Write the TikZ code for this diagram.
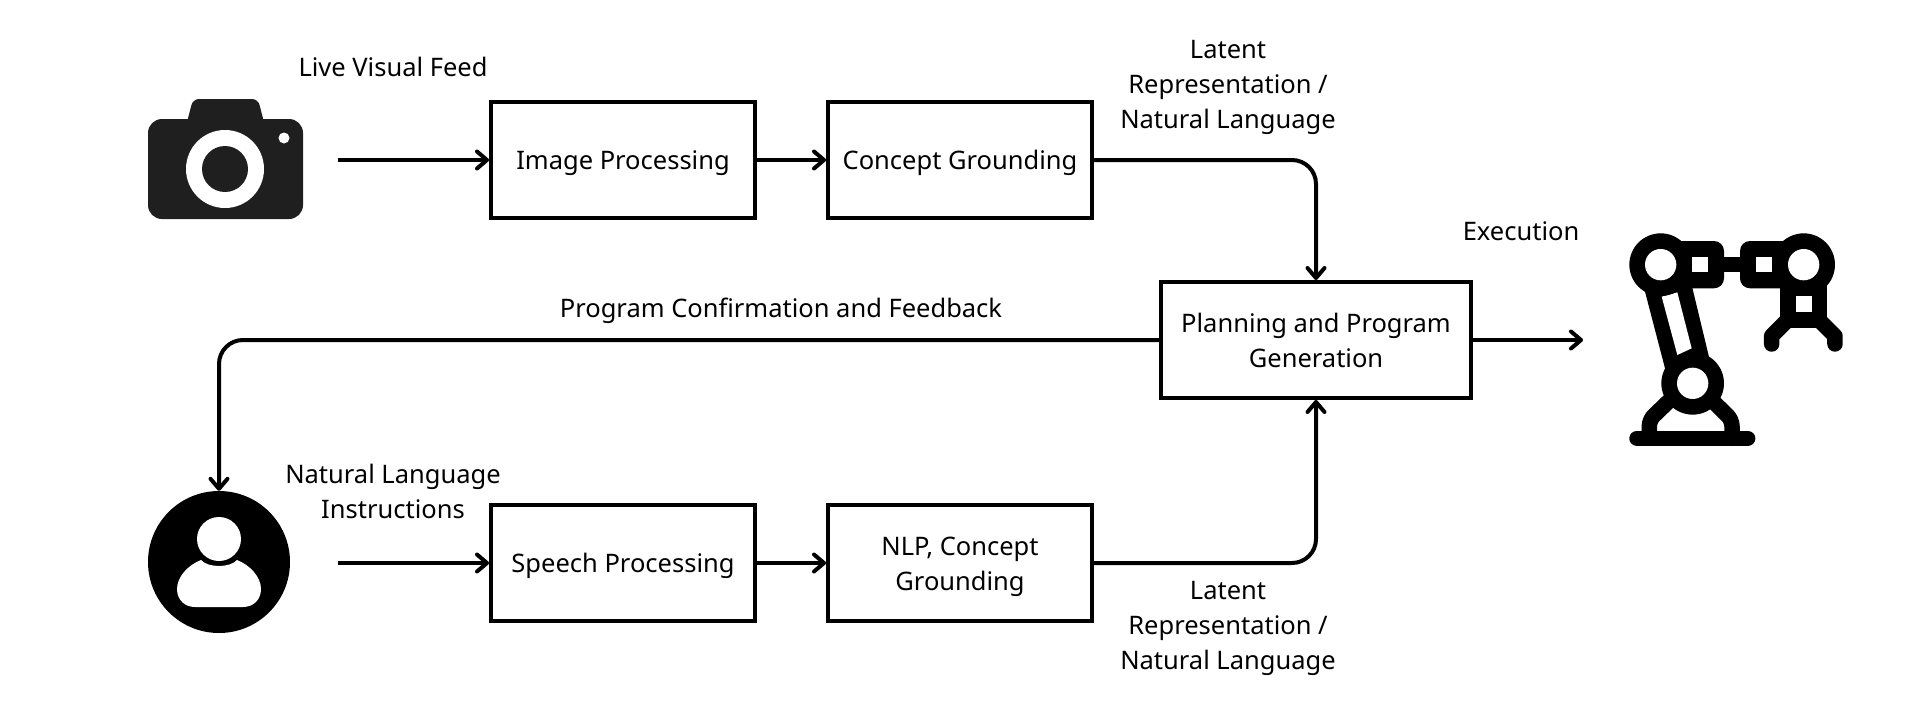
\documentclass[tikz,border=0pt]{standalone}
\usepackage{fontspec}
\setmainfont{Noto Sans}
\usetikzlibrary{arrows.meta}
\definecolor{camgray}{HTML}{1F1F1F}
\tikzset{
  blockbox/.style={draw=black, line width=4pt, minimum height=116pt, align=center, font=\fontsize{25.5}{35}\selectfont, execute at begin node={\rule{0pt}{26pt}}},
  caption/.style={align=center, font=\fontsize{25.5}{35}\selectfont},
  flow/.style={line width=4pt, -{Straight Barb[length=10pt, width=17pt, line width=4pt, round]}, rounded corners=24pt},
  robotline/.style={line width=15.5pt, line cap=round, line join=round}
}
\begin{document}
\begin{tikzpicture}[x=1pt, y=-1pt]
\useasboundingbox (0,0) rectangle (1920,705);

% blocks
\node [blockbox, minimum width=264pt] (imageproc) at (623,160) {Image Processing};
\node [blockbox, minimum width=264pt] (conceptgr) at (960,160) {Concept Grounding};
\node [blockbox, minimum width=310pt] (planning) at (1316,340) {Planning and Program\\Generation};
\node [blockbox, minimum width=264pt] (speechproc) at (623,563) {Speech Processing};
\node [blockbox, minimum width=264pt] (nlpgr) at (960,563) {\rule{0pt}{27pt}NLP, Concept\\Grounding};

% camera
\fill [camgray, rounded corners=6pt] (185,130) -- (193,99) -- (258,99) -- (266,130) -- cycle;
\fill [camgray, rounded corners=14pt] (148,119) rectangle (303,219);
\fill [white] (225,169) circle (39);
\fill [camgray] (225,169) circle (23);
\fill [white] (284,138) circle (5.5);

% person
\node [circle, fill=black, minimum size=142pt, inner sep=0pt] (person) at (219,562) {};
\fill [white] (219,539) circle (22);
\fill [white] (201,560) .. controls (208,568) and (230,568) .. (237,560)
  .. controls (250,565) and (261,577) .. (261,589)
  .. controls (261,600) and (253,607) .. (243,607) -- (195,607)
  .. controls (185,607) and (177,600) .. (177,589)
  .. controls (177,577) and (188,565) .. (201,560) -- cycle;

% robot
\begin{scope}[shift={(1600,210)}, x=0.3333pt, y=-0.3333pt]
\fill [black] (135,245) -- (275,225) -- (328,445) -- (195,475) -- cycle;
\fill [white] (185,260) -- (232,247) -- (275,415) -- (232,435) -- cycle;
\fill [black, rounded corners=10pt] (130,93) rectangle (372,235);
\fill [white] (277,141) rectangle (325,187);
\fill [black, rounded corners=10pt] (420,93) rectangle (640,235);
\fill [white] (467,141) rectangle (517,187);
\fill [black] (360,141) rectangle (430,187);
\fill [black] (540,200) rectangle (680,353);
\fill [white] (587,258) rectangle (635,306);
\draw [robotline] (563,330) -- (515,378) -- (515,402);
\draw [robotline] (657,330) -- (705,378) -- (705,402);
\foreach \cx/\cy in {182/164, 611/164, 278/520} {
  \fill [black] (\cx,\cy) circle (94);
  \fill [white] (\cx,\cy) circle (47);
}
\draw [robotline, rounded corners=6pt] (148,685) -- (148,630) -- (205,575);
\draw [robotline, rounded corners=6pt] (396,685) -- (396,630) -- (340,575);
\draw [robotline] (111,685) -- (443,685);
\end{scope}

% free ends
\coordinate (camerafeed) at (338,160);
\coordinate (personfeed) at (338,563);
\coordinate (robotin) at (1583,340);

% connectors
\draw [flow] (camerafeed) -- (imageproc.west |- camerafeed);
\draw [flow] (imageproc) -- (conceptgr);
\draw [flow] (conceptgr.east) -| (planning.north);
\draw [flow] (planning.west) -| (person.north);
\draw [flow] (planning.east) -- (robotin);
\draw [flow] (personfeed) -- (speechproc.west |- personfeed);
\draw [flow] (speechproc) -- (nlpgr);
\draw [flow] (nlpgr.east) -| (planning.south);

% labels
\node [caption] (visuallabel) at (393,67) {Live Visual Feed};
\node [caption] (latenttop) at (1228,87.5) {Latent\\Representation /\\Natural Language};
\node [caption] (confirmlabel) at (781,311) {Program Confirmation and Feedback};
\node [caption] (execlabel) at (1521,231) {Execution};
\node [caption] (nllabel) at (393,491) {Natural Language\\Instructions};
\node [caption] (latentbottom) at (1228,628) {Latent\\Representation /\\Natural Language};
\end{tikzpicture}
\end{document}
